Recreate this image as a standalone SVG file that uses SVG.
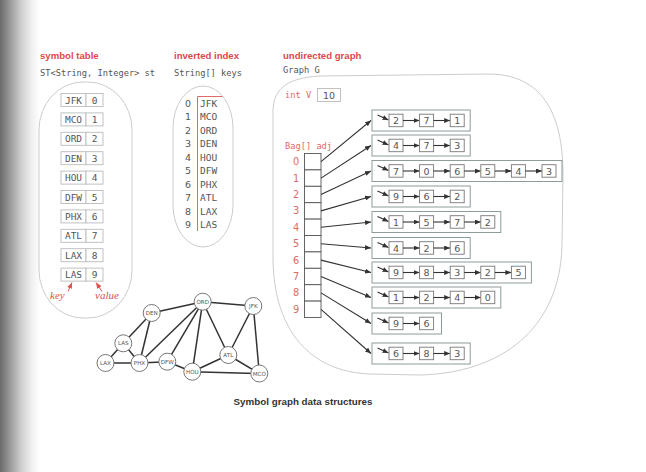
<svg xmlns="http://www.w3.org/2000/svg" width="646" height="472" viewBox="0 0 646 472">
<defs>
<linearGradient id="shade" x1="0" y1="0" x2="1" y2="0">
<stop offset="0" stop-color="#6a6a6a"/>
<stop offset="0.25" stop-color="#9a9a9a"/>
<stop offset="0.55" stop-color="#d2d2d2"/>
<stop offset="0.8" stop-color="#f0f0f0"/>
<stop offset="1" stop-color="#ffffff"/>
</linearGradient>
<marker id="ah" markerUnits="userSpaceOnUse" markerWidth="6" markerHeight="5" refX="6" refY="2.5" orient="auto">
<path d="M0,0 L6,2.5 L0,5 z" fill="#333"/>
</marker>
<marker id="rh" markerUnits="userSpaceOnUse" markerWidth="6" markerHeight="5" refX="6" refY="2.5" orient="auto">
<path d="M0,0 L6,2.5 L0,5 z" fill="#d9534f"/>
</marker>
<style>
.head{font-family:"Liberation Sans","DejaVu Sans",sans-serif;font-weight:bold;font-size:9.6px;fill:#e0474c}
.code{font-family:"DejaVu Sans Mono","Liberation Mono",monospace;font-size:8.7px;fill:#555}
.rcode{font-family:"DejaVu Sans Mono","Liberation Mono",monospace;font-size:8.7px;fill:#e06a6a}
.cell{fill:#fff;stroke:#bbb;stroke-width:0.9}
.ctext{font-family:"DejaVu Sans Mono","Liberation Mono",monospace;font-size:9.5px;fill:#555;text-anchor:middle}
.itext{font-family:"DejaVu Sans","Liberation Sans",sans-serif;font-size:9.5px;fill:#555}
.rnum{font-family:"DejaVu Sans","Liberation Sans",sans-serif;font-size:9.8px;fill:#e06a6a;text-anchor:middle}
.blob{fill:none;stroke:#ccc;stroke-width:1}
.vtx circle{fill:#fff;stroke:#777;stroke-width:1}
.vtx text{font-family:"DejaVu Sans","Liberation Sans",sans-serif;font-size:5.6px;fill:#555;text-anchor:middle}
.edge{stroke:#333;stroke-width:1.5;fill:none}
.lbox{fill:#fff;stroke:#8f9c9c;stroke-width:1}
.nbox{fill:#fff;stroke:#777;stroke-width:0.9}
.ntext{font-family:"DejaVu Sans","Liberation Sans",sans-serif;font-size:9.5px;fill:#555;text-anchor:middle}
.arr{stroke:#333;stroke-width:1.1;fill:none;marker-end:url(#ah)}
.acell{fill:#fff;stroke:#555;stroke-width:0.9}
</style>
</defs>
<rect width="646" height="472" fill="#fff"/>
<rect x="0" y="0" width="40" height="472" fill="url(#shade)"/>

<g id="symbol-table">
<text class="head" x="40" y="58.5">symbol table</text>
<text class="code" x="40" y="75.5">ST&lt;String, Integer&gt; st</text>
<rect class="blob" x="39" y="82" width="93" height="236" rx="44" ry="48"/>
<g id="st-rows">
<rect class="cell" x="61" y="93.5" width="25" height="13"/><rect class="cell" x="86" y="93.5" width="17" height="13"/>
<text class="ctext" x="73.5" y="103.5">JFK</text><text class="ctext" x="94.5" y="103.5">0</text>
<rect class="cell" x="61" y="112.9" width="25" height="13"/><rect class="cell" x="86" y="112.9" width="17" height="13"/>
<text class="ctext" x="73.5" y="122.9">MCO</text><text class="ctext" x="94.5" y="122.9">1</text>
<rect class="cell" x="61" y="132.3" width="25" height="13"/><rect class="cell" x="86" y="132.3" width="17" height="13"/>
<text class="ctext" x="73.5" y="142.3">ORD</text><text class="ctext" x="94.5" y="142.3">2</text>
<rect class="cell" x="61" y="151.7" width="25" height="13"/><rect class="cell" x="86" y="151.7" width="17" height="13"/>
<text class="ctext" x="73.5" y="161.7">DEN</text><text class="ctext" x="94.5" y="161.7">3</text>
<rect class="cell" x="61" y="171.1" width="25" height="13"/><rect class="cell" x="86" y="171.1" width="17" height="13"/>
<text class="ctext" x="73.5" y="181.1">HOU</text><text class="ctext" x="94.5" y="181.1">4</text>
<rect class="cell" x="61" y="190.5" width="25" height="13"/><rect class="cell" x="86" y="190.5" width="17" height="13"/>
<text class="ctext" x="73.5" y="200.5">DFW</text><text class="ctext" x="94.5" y="200.5">5</text>
<rect class="cell" x="61" y="209.9" width="25" height="13"/><rect class="cell" x="86" y="209.9" width="17" height="13"/>
<text class="ctext" x="73.5" y="219.9">PHX</text><text class="ctext" x="94.5" y="219.9">6</text>
<rect class="cell" x="61" y="229.3" width="25" height="13"/><rect class="cell" x="86" y="229.3" width="17" height="13"/>
<text class="ctext" x="73.5" y="239.3">ATL</text><text class="ctext" x="94.5" y="239.3">7</text>
<rect class="cell" x="61" y="248.7" width="25" height="13"/><rect class="cell" x="86" y="248.7" width="17" height="13"/>
<text class="ctext" x="73.5" y="258.7">LAX</text><text class="ctext" x="94.5" y="258.7">8</text>
<rect class="cell" x="61" y="268.1" width="25" height="13"/><rect class="cell" x="86" y="268.1" width="17" height="13"/>
<text class="ctext" x="73.5" y="278.1">LAS</text><text class="ctext" x="94.5" y="278.1">9</text>
</g>
<path d="M68,291.5 L72,282.5" stroke="#d9534f" stroke-width="1" marker-end="url(#rh)"/>
<path d="M102,291.5 L96,282.5" stroke="#d9534f" stroke-width="1" marker-end="url(#rh)"/>
<text x="50" y="299" font-family="Liberation Serif,serif" font-style="italic" font-size="11" fill="#d9534f">key</text>
<text x="95" y="299" font-family="Liberation Serif,serif" font-style="italic" font-size="11" fill="#d9534f">value</text>
</g>

<g id="inverted-index">
<text class="head" x="174" y="58.5">inverted index</text>
<text class="code" x="174" y="75.5">String[] keys</text>
<rect class="blob" x="173" y="86" width="60" height="161" rx="30" ry="42"/>
<path d="M222.5,96.5 L197.5,96.5 L197.5,231" stroke="#e06a6a" stroke-width="1" fill="none"/>
<g class="itext">
<text x="185" y="106.5">0</text><text x="200" y="106.5" class="ctext" style="text-anchor:start">JFK</text>
<text x="185" y="120">1</text><text x="200" y="120" class="ctext" style="text-anchor:start">MCO</text>
<text x="185" y="133.6">2</text><text x="200" y="133.6" class="ctext" style="text-anchor:start">ORD</text>
<text x="185" y="147.1">3</text><text x="200" y="147.1" class="ctext" style="text-anchor:start">DEN</text>
<text x="185" y="160.7">4</text><text x="200" y="160.7" class="ctext" style="text-anchor:start">HOU</text>
<text x="185" y="174.2">5</text><text x="200" y="174.2" class="ctext" style="text-anchor:start">DFW</text>
<text x="185" y="187.8">6</text><text x="200" y="187.8" class="ctext" style="text-anchor:start">PHX</text>
<text x="185" y="201.3">7</text><text x="200" y="201.3" class="ctext" style="text-anchor:start">ATL</text>
<text x="185" y="214.9">8</text><text x="200" y="214.9" class="ctext" style="text-anchor:start">LAX</text>
<text x="185" y="228.4">9</text><text x="200" y="228.4" class="ctext" style="text-anchor:start">LAS</text>
</g>
</g>

<g id="graph-drawing">
<g id="graph-edges">
<line class="edge" x1="202.7" y1="301.7" x2="253.3" y2="306"/>
<line class="edge" x1="202.7" y1="301.7" x2="151.7" y2="313"/>
<line class="edge" x1="202.7" y1="301.7" x2="139.5" y2="363"/>
<line class="edge" x1="202.7" y1="301.7" x2="167.3" y2="361.7"/>
<line class="edge" x1="202.7" y1="301.7" x2="192.3" y2="371.7"/>
<line class="edge" x1="202.7" y1="301.7" x2="228.3" y2="355"/>
<line class="edge" x1="253.3" y1="306" x2="228.3" y2="355"/>
<line class="edge" x1="253.3" y1="306" x2="259.3" y2="373.5"/>
<line class="edge" x1="151.7" y1="313" x2="123.3" y2="343.3"/>
<line class="edge" x1="151.7" y1="313" x2="139.5" y2="363"/>
<line class="edge" x1="123.3" y1="343.3" x2="105.5" y2="363"/>
<line class="edge" x1="123.3" y1="343.3" x2="139.5" y2="363"/>
<line class="edge" x1="105.5" y1="363" x2="139.5" y2="363"/>
<line class="edge" x1="139.5" y1="363" x2="167.3" y2="361.7"/>
<line class="edge" x1="167.3" y1="361.7" x2="192.3" y2="371.7"/>
<line class="edge" x1="192.3" y1="371.7" x2="228.3" y2="355"/>
<line class="edge" x1="192.3" y1="371.7" x2="259.3" y2="373.5"/>
<line class="edge" x1="228.3" y1="355" x2="259.3" y2="373.5"/>
</g>
<g id="v-ORD" class="vtx"><circle cx="202.7" cy="301.7" r="8.5"/><text x="202.7" y="303.7">ORD</text></g>
<g id="v-JFK" class="vtx"><circle cx="253.3" cy="306" r="8.5"/><text x="253.3" y="308">JFK</text></g>
<g id="v-DEN" class="vtx"><circle cx="151.7" cy="313" r="8.5"/><text x="151.7" y="315">DEN</text></g>
<g id="v-LAS" class="vtx"><circle cx="123.3" cy="343.3" r="8.5"/><text x="123.3" y="345.3">LAS</text></g>
<g id="v-LAX" class="vtx"><circle cx="105.5" cy="363" r="8.5"/><text x="105.5" y="365">LAX</text></g>
<g id="v-PHX" class="vtx"><circle cx="139.5" cy="363" r="8.5"/><text x="139.5" y="365">PHX</text></g>
<g id="v-DFW" class="vtx"><circle cx="167.3" cy="361.7" r="8.5"/><text x="167.3" y="363.7">DFW</text></g>
<g id="v-HOU" class="vtx"><circle cx="192.3" cy="371.7" r="8.5"/><text x="192.3" y="373.7">HOU</text></g>
<g id="v-ATL" class="vtx"><circle cx="228.3" cy="355" r="8.5"/><text x="228.3" y="357">ATL</text></g>
<g id="v-MCO" class="vtx"><circle cx="259.3" cy="373.5" r="8.5"/><text x="259.3" y="375.5">MCO</text></g>
</g>

<g id="undirected-graph">
<text class="head" x="283" y="58.5">undirected graph</text>
<text class="code" x="283" y="73">Graph G</text>
<path class="blob" d="M273,115 C272,90 285,78 320,76 L490,74 C540,75 563,110 563,175 L562,245 C560,330 500,373 420,375 L370,374 C310,372 274,330 273,260 Z"/>
<text class="rcode" x="285" y="98">int V</text>
<rect x="317.5" y="88.5" width="23" height="13" fill="#fff" stroke="#bbb" stroke-width="0.9"/>
<text class="ntext" x="329" y="98.5">10</text>
<text class="rcode" x="285" y="149">Bag[] adj</text>
<g id="adj-array">
<rect class="acell" x="304.5" y="153.5" width="16.5" height="16.4"/>
<rect class="acell" x="304.5" y="169.9" width="16.5" height="16.4"/>
<rect class="acell" x="304.5" y="186.3" width="16.5" height="16.4"/>
<rect class="acell" x="304.5" y="202.7" width="16.5" height="16.4"/>
<rect class="acell" x="304.5" y="219.1" width="16.5" height="16.4"/>
<rect class="acell" x="304.5" y="235.5" width="16.5" height="16.4"/>
<rect class="acell" x="304.5" y="251.9" width="16.5" height="16.4"/>
<rect class="acell" x="304.5" y="268.3" width="16.5" height="16.4"/>
<rect class="acell" x="304.5" y="284.7" width="16.5" height="16.4"/>
<rect class="acell" x="304.5" y="301.1" width="16.5" height="16.4"/>
<text class="rnum" x="296" y="165.2">0</text>
<text class="rnum" x="296" y="181.6">1</text>
<text class="rnum" x="296" y="198">2</text>
<text class="rnum" x="296" y="214.4">3</text>
<text class="rnum" x="296" y="230.8">4</text>
<text class="rnum" x="296" y="247.2">5</text>
<text class="rnum" x="296" y="263.6">6</text>
<text class="rnum" x="296" y="280">7</text>
<text class="rnum" x="296" y="296.4">8</text>
<text class="rnum" x="296" y="312.8">9</text>
</g>
<g id="adj-connectors">
<line class="arr" x1="321" y1="161.7" x2="371" y2="120.5"/>
<line class="arr" x1="321" y1="178.1" x2="371" y2="145.5"/>
<line class="arr" x1="321" y1="194.5" x2="371" y2="171"/>
<line class="arr" x1="321" y1="210.9" x2="371" y2="196.5"/>
<line class="arr" x1="321" y1="227.3" x2="371" y2="222"/>
<line class="arr" x1="321" y1="243.7" x2="371" y2="248"/>
<line class="arr" x1="321" y1="260.1" x2="371" y2="272.5"/>
<line class="arr" x1="321" y1="276.5" x2="371" y2="297.5"/>
<line class="arr" x1="321" y1="292.9" x2="371" y2="323.5"/>
<line class="arr" x1="321" y1="309.3" x2="371" y2="353.5"/>
</g>
<g id="list-0">
<rect class="lbox" x="372" y="110" width="98.2" height="21"/>
<path class="arr" d="M377.5,115 L388.5,120"/>
<rect class="nbox" x="389" y="114.2" width="14" height="12.5"/><text class="ntext" x="396" y="124">2</text>
<line class="arr" x1="403" y1="120.5" x2="419.6" y2="120.5"/>
<rect class="nbox" x="419.6" y="114.2" width="14" height="12.5"/><text class="ntext" x="426.6" y="124">7</text>
<line class="arr" x1="433.6" y1="120.5" x2="450.2" y2="120.5"/>
<rect class="nbox" x="450.2" y="114.2" width="14" height="12.5"/><text class="ntext" x="457.2" y="124">1</text>
</g>
<g id="list-1">
<rect class="lbox" x="372" y="135" width="98.2" height="21"/>
<path class="arr" d="M377.5,140 L388.5,145"/>
<rect class="nbox" x="389" y="139.2" width="14" height="12.5"/><text class="ntext" x="396" y="149">4</text>
<line class="arr" x1="403" y1="145.5" x2="419.6" y2="145.5"/>
<rect class="nbox" x="419.6" y="139.2" width="14" height="12.5"/><text class="ntext" x="426.6" y="149">7</text>
<line class="arr" x1="433.6" y1="145.5" x2="450.2" y2="145.5"/>
<rect class="nbox" x="450.2" y="139.2" width="14" height="12.5"/><text class="ntext" x="457.2" y="149">3</text>
</g>
<g id="list-2">
<rect class="lbox" x="372" y="160.5" width="190" height="21"/>
<path class="arr" d="M377.5,165.5 L388.5,170.5"/>
<rect class="nbox" x="389" y="164.7" width="14" height="12.5"/><text class="ntext" x="396" y="174.5">7</text>
<line class="arr" x1="403" y1="171" x2="419.6" y2="171"/>
<rect class="nbox" x="419.6" y="164.7" width="14" height="12.5"/><text class="ntext" x="426.6" y="174.5">0</text>
<line class="arr" x1="433.6" y1="171" x2="450.2" y2="171"/>
<rect class="nbox" x="450.2" y="164.7" width="14" height="12.5"/><text class="ntext" x="457.2" y="174.5">6</text>
<line class="arr" x1="464.2" y1="171" x2="480.8" y2="171"/>
<rect class="nbox" x="480.8" y="164.7" width="14" height="12.5"/><text class="ntext" x="487.8" y="174.5">5</text>
<line class="arr" x1="494.8" y1="171" x2="511.4" y2="171"/>
<rect class="nbox" x="511.4" y="164.7" width="14" height="12.5"/><text class="ntext" x="518.4" y="174.5">4</text>
<line class="arr" x1="525.4" y1="171" x2="542" y2="171"/>
<rect class="nbox" x="542" y="164.7" width="14" height="12.5"/><text class="ntext" x="549" y="174.5">3</text>
</g>
<g id="list-3">
<rect class="lbox" x="372" y="186" width="98.2" height="21"/>
<path class="arr" d="M377.5,191 L388.5,196"/>
<rect class="nbox" x="389" y="190.2" width="14" height="12.5"/><text class="ntext" x="396" y="200">9</text>
<line class="arr" x1="403" y1="196.5" x2="419.6" y2="196.5"/>
<rect class="nbox" x="419.6" y="190.2" width="14" height="12.5"/><text class="ntext" x="426.6" y="200">6</text>
<line class="arr" x1="433.6" y1="196.5" x2="450.2" y2="196.5"/>
<rect class="nbox" x="450.2" y="190.2" width="14" height="12.5"/><text class="ntext" x="457.2" y="200">2</text>
</g>
<g id="list-4">
<rect class="lbox" x="372" y="211.5" width="128.8" height="21"/>
<path class="arr" d="M377.5,216.5 L388.5,221.5"/>
<rect class="nbox" x="389" y="215.7" width="14" height="12.5"/><text class="ntext" x="396" y="225.5">1</text>
<line class="arr" x1="403" y1="222" x2="419.6" y2="222"/>
<rect class="nbox" x="419.6" y="215.7" width="14" height="12.5"/><text class="ntext" x="426.6" y="225.5">5</text>
<line class="arr" x1="433.6" y1="222" x2="450.2" y2="222"/>
<rect class="nbox" x="450.2" y="215.7" width="14" height="12.5"/><text class="ntext" x="457.2" y="225.5">7</text>
<line class="arr" x1="464.2" y1="222" x2="480.8" y2="222"/>
<rect class="nbox" x="480.8" y="215.7" width="14" height="12.5"/><text class="ntext" x="487.8" y="225.5">2</text>
</g>
<g id="list-5">
<rect class="lbox" x="372" y="237.5" width="98.2" height="21"/>
<path class="arr" d="M377.5,242.5 L388.5,247.5"/>
<rect class="nbox" x="389" y="241.7" width="14" height="12.5"/><text class="ntext" x="396" y="251.5">4</text>
<line class="arr" x1="403" y1="248" x2="419.6" y2="248"/>
<rect class="nbox" x="419.6" y="241.7" width="14" height="12.5"/><text class="ntext" x="426.6" y="251.5">2</text>
<line class="arr" x1="433.6" y1="248" x2="450.2" y2="248"/>
<rect class="nbox" x="450.2" y="241.7" width="14" height="12.5"/><text class="ntext" x="457.2" y="251.5">6</text>
</g>
<g id="list-6">
<rect class="lbox" x="372" y="262" width="159.4" height="21"/>
<path class="arr" d="M377.5,267 L388.5,272"/>
<rect class="nbox" x="389" y="266.2" width="14" height="12.5"/><text class="ntext" x="396" y="276">9</text>
<line class="arr" x1="403" y1="272.5" x2="419.6" y2="272.5"/>
<rect class="nbox" x="419.6" y="266.2" width="14" height="12.5"/><text class="ntext" x="426.6" y="276">8</text>
<line class="arr" x1="433.6" y1="272.5" x2="450.2" y2="272.5"/>
<rect class="nbox" x="450.2" y="266.2" width="14" height="12.5"/><text class="ntext" x="457.2" y="276">3</text>
<line class="arr" x1="464.2" y1="272.5" x2="480.8" y2="272.5"/>
<rect class="nbox" x="480.8" y="266.2" width="14" height="12.5"/><text class="ntext" x="487.8" y="276">2</text>
<line class="arr" x1="494.8" y1="272.5" x2="511.4" y2="272.5"/>
<rect class="nbox" x="511.4" y="266.2" width="14" height="12.5"/><text class="ntext" x="518.4" y="276">5</text>
</g>
<g id="list-7">
<rect class="lbox" x="372" y="287" width="128.8" height="21"/>
<path class="arr" d="M377.5,292 L388.5,297"/>
<rect class="nbox" x="389" y="291.2" width="14" height="12.5"/><text class="ntext" x="396" y="301">1</text>
<line class="arr" x1="403" y1="297.5" x2="419.6" y2="297.5"/>
<rect class="nbox" x="419.6" y="291.2" width="14" height="12.5"/><text class="ntext" x="426.6" y="301">2</text>
<line class="arr" x1="433.6" y1="297.5" x2="450.2" y2="297.5"/>
<rect class="nbox" x="450.2" y="291.2" width="14" height="12.5"/><text class="ntext" x="457.2" y="301">4</text>
<line class="arr" x1="464.2" y1="297.5" x2="480.8" y2="297.5"/>
<rect class="nbox" x="480.8" y="291.2" width="14" height="12.5"/><text class="ntext" x="487.8" y="301">0</text>
</g>
<g id="list-8">
<rect class="lbox" x="372" y="313" width="69.5" height="21"/>
<path class="arr" d="M377.5,318 L388.5,323"/>
<rect class="nbox" x="389" y="317.2" width="14" height="12.5"/><text class="ntext" x="396" y="327">9</text>
<line class="arr" x1="403" y1="323.5" x2="419.6" y2="323.5"/>
<rect class="nbox" x="419.6" y="317.2" width="14" height="12.5"/><text class="ntext" x="426.6" y="327">6</text>
</g>
<g id="list-9">
<rect class="lbox" x="372" y="343" width="98.2" height="21"/>
<path class="arr" d="M377.5,348 L388.5,353"/>
<rect class="nbox" x="389" y="347.2" width="14" height="12.5"/><text class="ntext" x="396" y="357">6</text>
<line class="arr" x1="403" y1="353.5" x2="419.6" y2="353.5"/>
<rect class="nbox" x="419.6" y="347.2" width="14" height="12.5"/><text class="ntext" x="426.6" y="357">8</text>
<line class="arr" x1="433.6" y1="353.5" x2="450.2" y2="353.5"/>
<rect class="nbox" x="450.2" y="347.2" width="14" height="12.5"/><text class="ntext" x="457.2" y="357">3</text>
</g>
</g>

<text x="303" y="405" text-anchor="middle" font-family="Liberation Sans,DejaVu Sans,sans-serif" font-weight="bold" font-size="9.8" fill="#333">Symbol graph data structures</text>
</svg>
